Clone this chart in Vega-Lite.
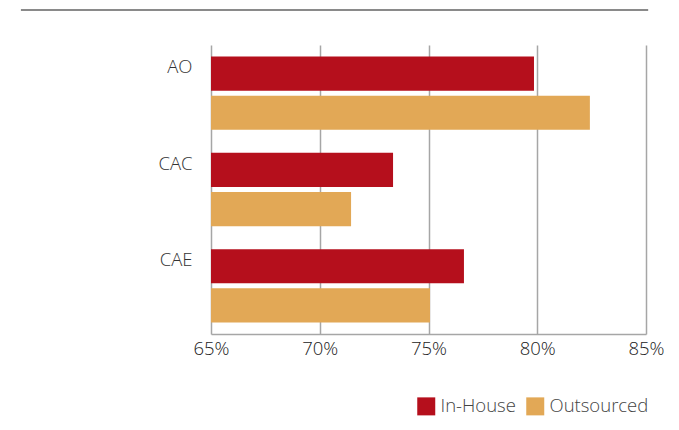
{
  "$schema": "https://vega.github.io/schema/vega-lite/v6.json",
  "padding": {"left": 19, "top": 9, "right": 31, "bottom": 5},
  "background": "white",
  "config": {
    "font": "Open Sans",
    "view": {"stroke": null},
    "concat": {"spacing": 34}
  },
  "resolve": {
    "scale": {"x": "independent", "y": "independent"},
    "axis": {"x": "independent", "y": "independent"}
  },
  "datasets": {
    "bars": [
      {"unit": "AO", "type": "In-House", "rate": 0.7985},
      {"unit": "AO", "type": "Outsourced", "rate": 0.8242},
      {"unit": "CAC", "type": "In-House", "rate": 0.7337},
      {"unit": "CAC", "type": "Outsourced", "rate": 0.7144},
      {"unit": "CAE", "type": "In-House", "rate": 0.7663},
      {"unit": "CAE", "type": "Outsourced", "rate": 0.7507}
    ],
    "line": [{"start": -0.437, "end": 1.005, "level": 1}]
  },
  "vconcat": [
    {
      "width": 435,
      "height": 1,
      "data": {"name": "line"},
      "mark": {"type": "rule", "color": "#8a8a8a", "strokeWidth": 2},
      "encoding": {
        "x": {"field": "start", "type": "quantitative", "scale": {"domain": [0, 1], "nice": false, "zero": false}, "axis": null},
        "x2": {"field": "end"},
        "y": {"field": "level", "type": "quantitative", "scale": {"domain": [0, 1]}, "axis": null}
      }
    },
    {
      "width": 435,
      "height": 289,
      "data": {"name": "bars"},
      "mark": {"type": "bar"},
      "encoding": {
        "y": {
          "field": "unit",
          "type": "nominal",
          "sort": ["AO", "CAC", "CAE"],
          "scale": {"paddingInner": 0, "paddingOuter": 0},
          "axis": {
            "title": null,
            "domain": false,
            "ticks": false,
            "labelPadding": 19,
            "labelOffset": -26,
            "labelFontSize": 18.5,
            "labelColor": "#333333",
            "labelFontWeight": 300,
            "minExtent": 191
          }
        },
        "yOffset": {
          "field": "type",
          "type": "nominal",
          "sort": ["In-House", "Outsourced"],
          "scale": {"paddingInner": 0.128, "paddingOuter": 0.294}
        },
        "x": {
          "field": "rate",
          "type": "quantitative",
          "scale": {"domain": [0.65, 0.85], "nice": false, "zero": false, "clamp": true},
          "axis": {
            "title": null,
            "values": [0.65, 0.7, 0.75, 0.8, 0.85],
            "format": ".0%",
            "grid": true,
            "gridColor": "#a6a6a6",
            "gridWidth": 1.5,
            "domainColor": "#a6a6a6",
            "domainWidth": 1.5,
            "ticks": false,
            "labelFlush": false,
            "labelPadding": 5,
            "labelFontSize": 18.5,
            "labelColor": "#222222",
            "labelFontWeight": 300
          }
        },
        "color": {
          "field": "type",
          "type": "nominal",
          "sort": ["In-House", "Outsourced"],
          "scale": {"domain": ["In-House", "Outsourced"], "range": ["#b50f1c", "#e2a856"]},
          "legend": {
            "title": null,
            "orient": "none",
            "legendX": 206,
            "legendY": 387,
            "direction": "horizontal",
            "symbolType": "square",
            "symbolSize": 324,
            "symbolStrokeWidth": 0,
            "symbolOpacity": 1,
            "labelFontSize": 18.5,
            "labelFontWeight": 300,
            "labelColor": "#444444",
            "labelOffset": 5,
            "columnPadding": 10
          }
        }
      }
    }
  ]
}
